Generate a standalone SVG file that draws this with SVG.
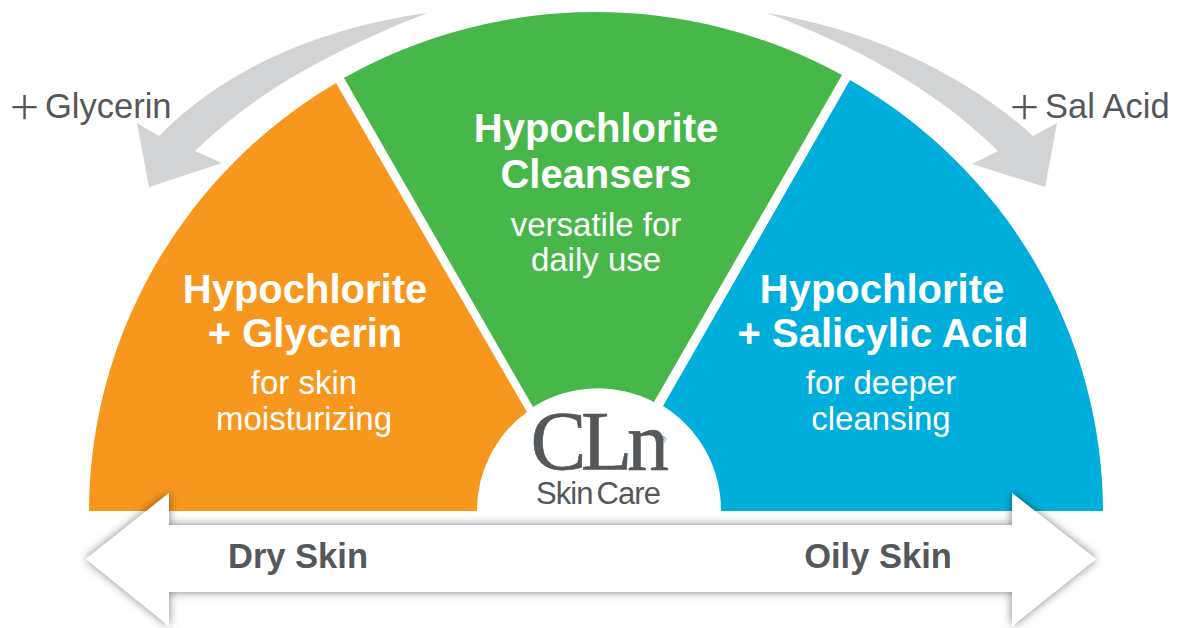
<svg xmlns="http://www.w3.org/2000/svg" width="1178" height="628" viewBox="0 0 1178 628">
<style>
text{font-family:"Liberation Sans",Arial,sans-serif;text-anchor:middle}
.h{font-size:40px;font-weight:700;fill:#fff}
.s{font-size:33px;fill:#fff}
.g{fill:#54585a}
.l{font-size:34.5px;text-anchor:start}
.p{font-size:56px;font-family:Inter,"Liberation Sans",sans-serif;font-weight:200;text-anchor:start}
.b{font-size:34.5px;font-weight:700}
.a{fill:#d1d3d4}
</style>
<defs>
<filter id="sh" x="-5%" y="-30%" width="110%" height="160%"><feDropShadow dx="0" dy="0" stdDeviation="5" flood-color="#000" flood-opacity=".5"/></filter>
</defs>
<rect width="1178" height="628" fill="#fff"/>
<g id="connectors">
<path id="arrow-glycerin" class="a" d="M427 13C325 27 228 66 159 136L137 123L149 187L222 163L195 151C262 86 342 47 427 13Z"/>
<path id="arrow-sal-acid" class="a" d="M767 13C868 29 965 74 1033 136L1057 123L1045 187L972 164L998 151C932 86 852 45 767 13Z"/>
</g>
<g id="node-glycerin">
<path fill="#f7971e" d="M89 511A507 500 0 0 1 336 83L527 412A122 122 0 0 0 477 511Z"/>
<text class="h" x="305" y="303">Hypochlorite</text>
<text class="h" x="305" y="347">+ Glycerin</text>
<text class="s" x="304" y="394">for skin</text>
<text class="s" x="304" y="430">moisturizing</text>
</g>
<g id="node-cleansers">
<path fill="#48b74a" d="M344 78A507 500 0 0 1 842 75L654 402A122 122 0 0 0 533 407Z"/>
<text class="h" x="596" y="142">Hypochlorite</text>
<text class="h" x="596" y="188">Cleansers</text>
<text class="s" x="596" y="236">versatile for</text>
<text class="s" x="596" y="271">daily use</text>
</g>
<g id="node-salicylic">
<path fill="#00aedc" d="M850 80A507 500 0 0 1 1103 511H721A122 122 0 0 0 663 406Z"/>
<text class="h" x="882" y="303">Hypochlorite</text>
<text class="h" x="883" y="347">+ Salicylic Acid</text>
<text class="s" x="881" y="394">for deeper</text>
<text class="s" x="881" y="430">cleansing</text>
</g>
<g id="label-glycerin">
<text class="g p" x="6.5" y="122.5">+</text>
<text class="g l" x="45" y="118">Glycerin</text>
</g>
<g id="label-sal-acid">
<text class="g p" x="1006.5" y="122.5">+</text>
<text class="g l" x="1045" y="118">Sal Acid</text>
</g>
<g id="node-scale">
<path filter="url(#sh)" fill="#fff" d="M86 559L169 493V525H1012V493L1096 559L1012 626V592H169V626Z"/>
<text class="g b" x="298" y="568">Dry Skin</text>
<text class="g b" x="878" y="568">Oily Skin</text>
</g>
<g id="node-logo">
<text class="g" x="597" y="470" stroke="#54585a" stroke-width=".6" style="font-family:'Liberation Serif',serif;font-size:84px;letter-spacing:-5.5px">CLn</text>
<text class="g" x="663" y="443" style="font-size:9px">®</text>
<text class="g" x="598" y="504" style="font-size:31px;letter-spacing:-.9px;word-spacing:-4px">Skin Care</text>
</g>
</svg>
